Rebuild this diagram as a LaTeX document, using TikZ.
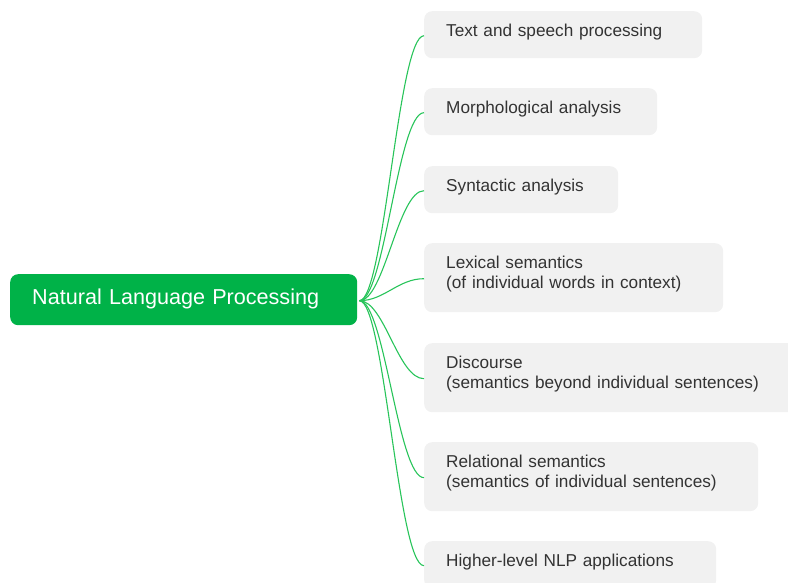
\documentclass[tikz,border=0pt]{standalone}
\usepackage{fontspec}
\setmainfont{Liberation Sans}
\definecolor{rootgreen}{RGB}{0,178,72}
\definecolor{linkgreen}{RGB}{40,196,90}
\definecolor{boxgray}{RGB}{241,241,241}
\definecolor{inkgray}{RGB}{51,51,51}
\tikzset{
  rootbox/.style={fill=rootgreen, rounded corners=8pt, text=white,
    font=\fontsize{21.6}{24}\selectfont, anchor=north west, inner xsep=22pt,
    inner ysep=0pt, minimum height=51pt, text width=303pt, align=left,
    text depth=7pt},
  topicbox/.style={fill=boxgray, rounded corners=8pt, text=inkgray,
    font=\fontsize{17.2}{20}\selectfont, anchor=north west, inner xsep=22pt,
    inner ysep=0pt, align=left},
  onerow/.style={minimum height=47pt, text depth=8pt},
  tworow/.style={minimum height=69pt, text depth=30pt},
  link/.style={draw=linkgreen, line width=1.1pt},
}
\begin{document}
\begin{tikzpicture}[x=1pt, y=-1pt]
\useasboundingbox (0,0) rectangle (788,583);

% central topic
\node[rootbox] (root) at (10,274) {Natural Language Processing};

% subtopics
\node[topicbox, onerow, text width=234pt] (t1) at (424,11) {Text and speech processing};
\node[topicbox, onerow, text width=189pt] (t2) at (424,88) {Morphological analysis};
\node[topicbox, onerow, text width=150pt] (t3) at (424,166) {Syntactic analysis};
\node[topicbox, tworow, text width=255pt] (t4) at (424,243) {Lexical semantics\\(of individual words in context)};
\node[topicbox, tworow, text width=346pt] (t5) at (424,343) {Discourse\\(semantics beyond individual sentences)};
\node[topicbox, tworow, text width=290pt] (t6) at (424,442) {Relational semantics\\(semantics of individual sentences)};
\node[topicbox, onerow, text width=248pt] (t7) at (424,541) {Higher-level NLP applications};

% branches from the central topic
\foreach \t in {t1,t2,t3,t4,t5,t6,t7}{
  \draw[link] ([xshift=2pt,yshift=-1pt]root.east) .. controls +(25,0) and +(-26,0) .. ([yshift=-1pt]\t.west);
}
\end{tikzpicture}
\end{document}
